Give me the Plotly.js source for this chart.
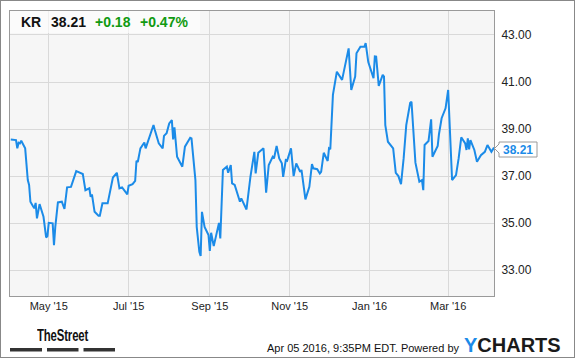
<!DOCTYPE html>
<html>
<head>
<meta charset="utf-8">
<script src="https://cdn.plot.ly/plotly-3.0.1.min.js"></script>
<style>
html,body{margin:0;padding:0;background:#fff;}
#wrap{position:relative;width:575px;height:358px;overflow:hidden;}
#chart{width:575px;height:358px;}
#frame{position:absolute;left:0;top:0;width:573px;height:356px;border:1px solid #888;pointer-events:none;}
#street{position:absolute;left:37px;top:327.5px;font-family:'Liberation Sans',Arial,sans-serif;font-weight:bold;font-size:16px;line-height:16px;color:#111;transform:scaleX(0.71);transform-origin:0 0;white-space:nowrap;letter-spacing:-0.2px;}
</style>
</head>
<body>
<div id="wrap"><div id="chart"></div><div id="street">TheStreet</div><div id="frame"></div></div>
<script>
const ticker = "KR";
const lastPrice = "38.21";
const change = "+0.18";
const changePct = "+0.47%";
const stamp = "Apr 05 2016, 9:35PM EDT. Powered by";
const yTicks = [33, 35, 37, 39, 41, 43];

const dates = ['2015-04-02','2015-04-06','2015-04-07','2015-04-08','2015-04-09','2015-04-10','2015-04-13','2015-04-14','2015-04-15','2015-04-16','2015-04-17','2015-04-19','2015-04-20','2015-04-21','2015-04-22','2015-04-24','2015-04-27','2015-04-29','2015-04-30',
'2015-05-01','2015-05-04','2015-05-05','2015-05-06','2015-05-08','2015-05-11','2015-05-13','2015-05-15','2015-05-18','2015-05-22','2015-05-27','2015-05-29',
'2015-06-01','2015-06-02','2015-06-03','2015-06-05','2015-06-08','2015-06-09','2015-06-11','2015-06-15','2015-06-19','2015-06-22','2015-06-24','2015-06-26','2015-06-30',
'2015-07-01','2015-07-04','2015-07-06','2015-07-07','2015-07-08','2015-07-10','2015-07-13','2015-07-14','2015-07-17','2015-07-20','2015-07-21','2015-07-24','2015-07-27','2015-07-28','2015-07-30',
'2015-08-01','2015-08-03','2015-08-04','2015-08-05','2015-08-07','2015-08-11','2015-08-13','2015-08-17','2015-08-18','2015-08-21','2015-08-22','2015-08-24','2015-08-25','2015-08-26','2015-08-28','2015-08-31',
'2015-09-01','2015-09-02','2015-09-04','2015-09-08','2015-09-09','2015-09-11','2015-09-14','2015-09-15','2015-09-17','2015-09-18','2015-09-20','2015-09-24','2015-09-25','2015-09-29',
'2015-10-02','2015-10-05','2015-10-06','2015-10-08','2015-10-12','2015-10-14','2015-10-16','2015-10-19','2015-10-20','2015-10-22','2015-10-24','2015-10-26','2015-10-27','2015-10-29','2015-10-30',
'2015-11-02','2015-11-04','2015-11-06','2015-11-09','2015-11-10','2015-11-13','2015-11-16','2015-11-18','2015-11-19','2015-11-22','2015-11-24','2015-11-25','2015-11-27','2015-11-30',
'2015-12-01','2015-12-02','2015-12-04','2015-12-07','2015-12-11','2015-12-14','2015-12-16','2015-12-18','2015-12-21','2015-12-22','2015-12-25','2015-12-28','2015-12-29','2015-12-31',
'2016-01-04','2016-01-05','2016-01-06','2016-01-08','2016-01-11','2016-01-12','2016-01-13','2016-01-15','2016-01-19','2016-01-21','2016-01-23','2016-01-25','2016-01-27','2016-01-29',
'2016-02-01','2016-02-02','2016-02-05','2016-02-08','2016-02-10','2016-02-11','2016-02-12','2016-02-15','2016-02-17','2016-02-18','2016-02-22','2016-02-23','2016-02-25','2016-02-28',
'2016-03-01','2016-03-04','2016-03-07','2016-03-09','2016-03-11','2016-03-14','2016-03-15','2016-03-16','2016-03-17','2016-03-18','2016-03-21','2016-03-23','2016-03-26','2016-03-29','2016-03-31',
'2016-04-03','2016-04-05'];

const prices = [38.56,38.53,38.18,38.42,38.39,38.50,38.18,37.47,36.83,36.62,35.91,35.72,35.63,35.86,35.20,35.81,35.27,34.39,34.45,
35.01,34.99,34.06,34.84,35.88,35.91,35.60,36.52,36.54,37.21,37.09,36.40,
36.48,36.12,36.22,35.48,35.31,35.31,35.84,35.84,36.94,37.14,36.48,36.52,36.22,
36.59,36.66,36.80,37.65,37.60,38.18,38.43,38.18,38.67,39.17,38.96,38.39,38.18,38.71,38.82,
39.24,39.38,38.56,39.07,37.82,37.40,38.25,38.63,38.60,36.83,34.84,33.78,33.60,35.48,34.84,34.49,
33.82,34.59,34.02,35.01,34.35,37.26,37.40,37.14,37.47,36.69,36.62,35.91,36.05,35.58,
36.97,38.03,37.11,37.99,38.18,36.29,37.47,37.82,37.75,38.28,37.75,37.54,36.97,37.68,37.65,
38.18,37.00,37.54,37.18,37.26,36.01,36.54,37.51,37.33,37.29,37.11,37.18,37.99,37.64,
38.18,38.14,40.45,41.44,41.09,41.86,42.43,40.66,41.23,42.22,42.50,42.50,42.65,41.85,
41.16,42.09,42.08,40.83,41.30,41.23,39.17,38.46,38.18,37.14,37.00,36.66,37.75,39.17,
40.12,40.16,37.57,36.76,36.83,36.40,38.32,38.49,39.41,37.82,38.28,38.79,39.46,39.88,
40.66,36.83,37.04,37.75,38.65,38.39,38.11,38.60,38.14,38.53,38.11,37.61,37.89,38.03,38.32,
38.03,38.21];

const W = 575, H = 358;
const L = 10, R = 494, T = 11, B = 296;
const px = x => (x - L) / (R - L);
const py = y => (B - y) / (B - T);
const FONT = 'Liberation Sans, Arial, sans-serif';
const BLUE = '#1b8be8';
const GREEN = '#119a11';

const trace = {
  x: dates, y: prices, type: 'scatter', mode: 'lines',
  line: {color: BLUE, width: 2}, hoverinfo: 'skip'
};

const tagPath = `M ${px(499)},${py(142)} L ${px(537)},${py(142)} L ${px(537)},${py(157)} L ${px(499)},${py(157)} L ${px(499)},${py(153)} L ${px(494.5)},${py(148.5)} L ${px(499)},${py(144)} Z`;

const layout = {
  width: W, height: H,
  margin: {l: L, r: W - R, t: T, b: H - B, pad: 0},
  paper_bgcolor: 'rgba(0,0,0,0)',
  plot_bgcolor: '#f6f6f6',
  showlegend: false,
  font: {family: FONT, color: '#222'},
  xaxis: {
    type: 'date', range: ['2015-04-01 10:00', '2016-04-05'],
    tick0: '2015-05-01', dtick: 'M2', tickformat: "%b '%y",
    showgrid: true, gridcolor: '#d9d9d9', gridwidth: 1,
    showline: true, mirror: true, linecolor: '#9a9a9a', linewidth: 1,
    ticks: '', tickfont: {family: FONT, size: 11, color: '#222'},
    zeroline: false, fixedrange: true
  },
  yaxis: {
    side: 'right', range: [31.9, 44.02],
    tickmode: 'array', tickvals: yTicks, ticktext: yTicks.map(v => v.toFixed(2)),
    showgrid: true, gridcolor: '#d9d9d9', gridwidth: 1,
    showline: true, mirror: true, linecolor: '#9a9a9a', linewidth: 1,
    ticks: '', ticklabelstandoff: 4,
    tickfont: {family: FONT, size: 12, color: '#222'},
    zeroline: false, fixedrange: true
  },
  shapes: [
    {type: 'rect', xref: 'paper', yref: 'paper', x0: px(10), x1: px(200), y0: py(33), y1: py(11),
     fillcolor: 'rgba(255,255,255,0.6)', line: {width: 0}, layer: 'above'},
    {type: 'path', xref: 'paper', yref: 'paper', path: tagPath,
     fillcolor: '#ffffff', line: {color: '#9a9a9a', width: 1}, layer: 'above'},
    {type: 'rect', xref: 'paper', yref: 'paper', x0: px(10), x1: px(42), y0: py(351.5), y1: py(348), fillcolor: '#333', line: {width: 0}},
    {type: 'rect', xref: 'paper', yref: 'paper', x0: px(47), x1: px(78.5), y0: py(351.5), y1: py(348), fillcolor: '#333', line: {width: 0}},
    {type: 'rect', xref: 'paper', yref: 'paper', x0: px(83.5), x1: px(115), y0: py(351.5), y1: py(348), fillcolor: '#333', line: {width: 0}}
  ],
  annotations: [
    {text: '<b>' + ticker + '</b>', xref: 'paper', yref: 'paper', x: px(19), y: py(22), xanchor: 'left', yanchor: 'middle', showarrow: false, font: {family: FONT, size: 14, color: '#111'}},
    {text: '<b>' + lastPrice + '</b>', xref: 'paper', yref: 'paper', x: px(49), y: py(22), xanchor: 'left', yanchor: 'middle', showarrow: false, font: {family: FONT, size: 14, color: '#111'}},
    {text: '<b>' + change + '</b>', xref: 'paper', yref: 'paper', x: px(93), y: py(22), xanchor: 'left', yanchor: 'middle', showarrow: false, font: {family: FONT, size: 14, color: GREEN}},
    {text: '<b>' + changePct + '</b>', xref: 'paper', yref: 'paper', x: px(138), y: py(22), xanchor: 'left', yanchor: 'middle', showarrow: false, font: {family: FONT, size: 14, color: GREEN}},
    {text: '<b>' + lastPrice + '</b>', xref: 'paper', yref: 'paper', x: px(518), y: py(149.5), xanchor: 'center', yanchor: 'middle', showarrow: false, font: {family: FONT, size: 12, color: BLUE}},
    {text: stamp, xref: 'paper', yref: 'paper', x: px(461), y: py(348), xanchor: 'right', yanchor: 'middle', showarrow: false, font: {family: FONT, size: 11, color: '#111'}},
    {text: '<b><span style="color:' + BLUE + '">Y</span>CHARTS</b>', xref: 'paper', yref: 'paper', x: px(462), y: py(345), xanchor: 'left', yanchor: 'middle', showarrow: false, font: {family: FONT, size: 20, color: '#1a1a1a'}}
  ]
};

Plotly.newPlot('chart', [trace], layout, {displayModeBar: false, staticPlot: true});
</script>
</body>
</html>
